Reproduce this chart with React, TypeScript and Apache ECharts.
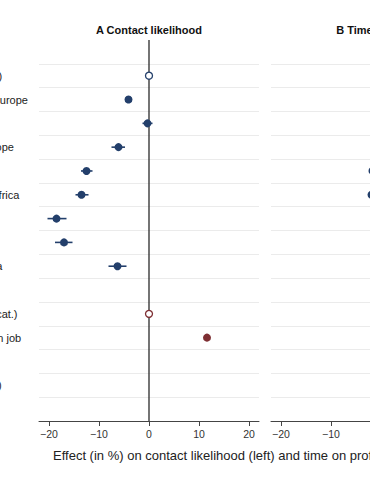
import { useEffect, useRef } from 'react';
import * as echarts from 'echarts';

// Row labels (top to bottom); long labels start left of the visible window
const rowLabels = [
  ' ',
  'Native (ref. cat.)',
  'Southeastern Europe',
  'Turkey',
  'Southwest Europe',
  'Middle East',
  'Sub-Saharan Africa',
  'South Asia',
  'East Asia',
  'Central America',
  '  ',
  'Not in job (ref. cat.)',
  'Currently in own job',
  '   ',
  'Single (ref. cat.)',
  '    ',
];
const rowRole = ['', 'ref', 'est', 'est', 'est', 'est', 'est', 'est', 'est', 'est', '', 'ref', 'est', '', '', ''];
const rowGroup = ['', 'origin', 'origin', 'origin', 'origin', 'origin', 'origin', 'origin', 'origin', 'origin', '', 'job', 'job', '', '', ''];

// Panel A: contact likelihood
const contactEst = [null, 0, -4.1, -0.3, -6.1, -12.5, -13.5, -18.5, -17.0, -6.3, null, 0, 11.6, null, null, null];
const contactLo = [null, null, -4.8, -1.3, -7.5, -13.6, -14.7, -20.3, -18.8, -8.1, null, null, 11.0, null, null, null];
const contactHi = [null, null, -3.4, 0.7, -4.8, -11.3, -12.1, -16.5, -15.3, -4.5, null, null, 12.2, null, null, null];

// Panel B: time on profile (only the visible part)
const timeEst = [null, 0, null, null, null, -1.7, -1.9, null, null, null, null, 0, null, null, null, null];
const timeLo = [null, null, null, null, null, -2.1, -2.6, null, null, null, null, null, null, null, null, null];
const timeHi = [null, null, null, null, null, -1.3, -1.2, null, null, null, null, null, null, null, null, null];

const xTicks = [-20, -10, 0, 10, 20];
const panelTitles = ['A Contact likelihood', 'B Time on profile'];
const xTitle = 'Effect (in %) on contact likelihood (left) and time on profile (right)';

const groupColor: Record<string, string> = { origin: '#233f6b', job: '#7e2f33' };
const FONT = '"Liberation Sans", Arial, Helvetica, sans-serif';

export default function App() {
  const ref = useRef<HTMLDivElement>(null);
  useEffect(() => {
    if (!ref.current) return;
    const chart = echarts.init(ref.current, undefined, { renderer: 'svg' });
    const nRows = rowLabels.length;
    const panels = [
      { est: contactEst, lo: contactLo, hi: contactHi, left: 39 },
      { est: timeEst, lo: timeLo, hi: timeHi, left: 271 },
    ];
    const grids: any[] = [];
    const xAxes: any[] = [];
    const yAxes: any[] = [];
    const series: any[] = [];
    panels.forEach((p, pi) => {
      grids.push({ left: p.left, top: 40, width: 220, height: 381, containLabel: false, outerBoundsMode: 'none' });
      xAxes.push({
        type: 'value', gridIndex: pi, min: -22, max: 22, position: 'bottom',
        axisLine: { show: true, onZero: false, lineStyle: { color: '#444', width: 1 } },
        axisTick: { show: true, length: 5, customValues: xTicks, lineStyle: { color: '#444' } },
        axisLabel: {
          customValues: xTicks, fontSize: 10.5, color: '#333', margin: 7, fontFamily: FONT,
          formatter: (v: number) => (v < 0 ? '\u2212' + Math.abs(v) : String(v)),
        },
        splitLine: { show: false },
      });
      // label axis
      yAxes.push({
        type: 'category', gridIndex: pi, data: rowLabels, inverse: true, boundaryGap: true,
        axisLine: { show: false, onZero: false }, axisTick: { show: false }, splitLine: { show: false },
        axisLabel: {
          show: pi === 0, interval: 0, align: 'left', margin: 115,
          fontSize: 11, color: '#222', fontFamily: FONT,
        },
      });
      // value axis used for marks and row separators
      yAxes.push({
        type: 'value', gridIndex: pi, min: 0, max: nRows, interval: 1, inverse: true,
        axisLine: { show: false, onZero: false }, axisTick: { show: false }, axisLabel: { show: false },
        splitLine: { show: true, showMinLine: false, showMaxLine: false, lineStyle: { color: '#ebebeb', width: 1 } },
      });
      const yIdx = pi * 2 + 1;
      // zero reference line
      series.push({
        type: 'line', xAxisIndex: pi, yAxisIndex: yIdx, z: 2,
        data: [[0, 0], [0, nRows]], symbol: 'none', silent: true,
        lineStyle: { color: '#2a2a2a', width: 1.3 },
      });
      ['origin', 'job'].forEach((g) => {
        const color = groupColor[g];
        const ci: any[] = [];
        const filled: any[] = [];
        const hollow: any[] = [];
        rowLabels.forEach((_, r) => {
          if (rowGroup[r] !== g || p.est[r] == null) return;
          if (rowRole[r] === 'ref') hollow.push([p.est[r], r + 0.5]);
          else filled.push([p.est[r], r + 0.5]);
          if (p.lo[r] != null && p.hi[r] != null) ci.push([p.lo[r], p.hi[r], r + 0.5]);
        });
        series.push({
          type: 'custom', xAxisIndex: pi, yAxisIndex: yIdx, z: 3,
          encode: { x: [0, 1], y: 2 },
          data: ci,
          renderItem: (_params: any, api: any) => {
            const a = api.coord([api.value(0), api.value(2)]);
            const b = api.coord([api.value(1), api.value(2)]);
            return {
              type: 'line',
              shape: { x1: a[0], y1: a[1], x2: b[0], y2: b[1] },
              style: { stroke: color, lineWidth: 1.6 },
            };
          },
        });
        series.push({
          type: 'scatter', xAxisIndex: pi, yAxisIndex: yIdx, z: 4,
          symbol: 'circle', symbolSize: 8, data: filled,
          itemStyle: { color, opacity: 1 },
        });
        series.push({
          type: 'scatter', xAxisIndex: pi, yAxisIndex: yIdx, z: 4,
          symbol: 'circle', symbolSize: 7, data: hollow,
          itemStyle: { color: '#ffffff', borderColor: color, borderWidth: 1.3, opacity: 1 },
        });
      });
    });
    chart.setOption({
      animation: false,
      backgroundColor: '#ffffff',
      textStyle: { fontFamily: FONT },
      grid: grids,
      xAxis: xAxes,
      yAxis: yAxes,
      series,
      graphic: [
        {
          type: 'text', x: 149, y: 30,
          style: { text: panelTitles[0], fontSize: 11, fontWeight: 'bold', fill: '#111', fontFamily: FONT, textAlign: 'center', textVerticalAlign: 'middle' },
        },
        {
          type: 'text', x: 381, y: 30,
          style: { text: panelTitles[1], fontSize: 11, fontWeight: 'bold', fill: '#111', fontFamily: FONT, textAlign: 'center', textVerticalAlign: 'middle' },
        },
        {
          type: 'text', x: 53, y: 455,
          style: { text: xTitle, fontSize: 13, fill: '#222', fontFamily: FONT, textAlign: 'left', textVerticalAlign: 'middle' },
        },
      ],
    });
    return () => chart.dispose();
  }, []);
  return <div ref={ref} style={{ position: 'fixed', left: 0, top: 0, width: 370, height: 480 }} />;
}
